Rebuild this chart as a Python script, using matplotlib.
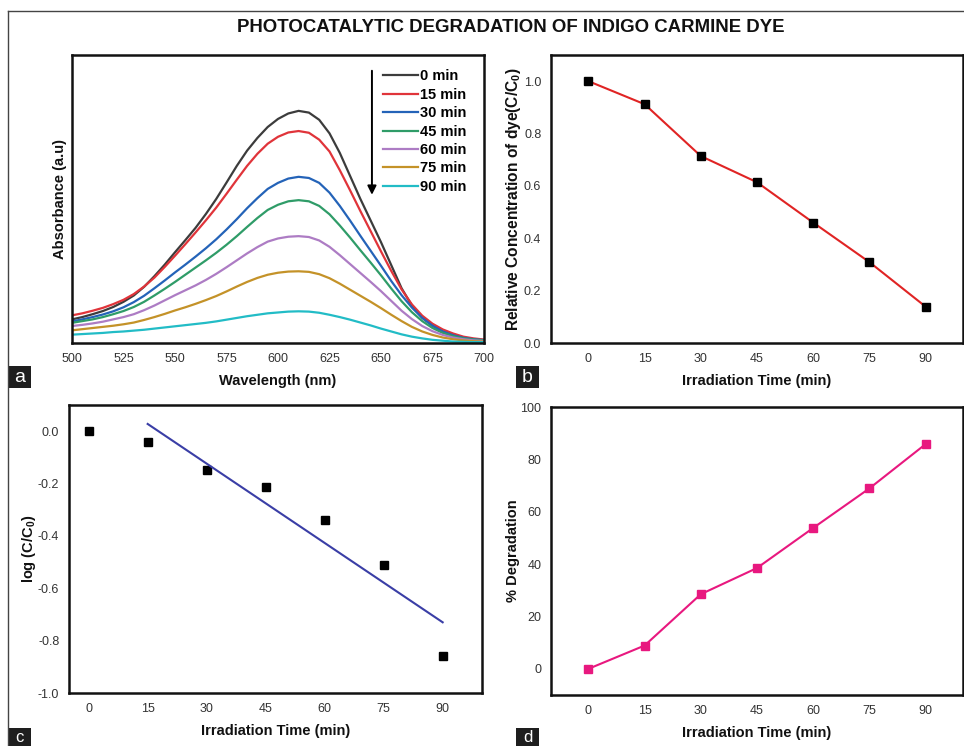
import matplotlib
matplotlib.use('Agg')
import matplotlib.pyplot as plt
import numpy as np
from matplotlib.lines import Line2D
from matplotlib.patches import Rectangle

plt.rcParams['font.family'] = ['Liberation Sans', 'DejaVu Sans']
plt.rcParams['mathtext.fontset'] = 'custom'
plt.rcParams['mathtext.bf'] = 'Liberation Sans:bold'
plt.rcParams['mathtext.rm'] = 'Liberation Sans:bold'

# ---- data ----
# (a) UV-vis spectra, absorbance in a.u. (read every 5 nm)
wavelength = list(range(500, 701, 5))
abs_0 = [0.082, 0.090, 0.100, 0.111, 0.125, 0.143, 0.165, 0.195, 0.232, 0.272, 0.315,
         0.357, 0.400, 0.448, 0.500, 0.557, 0.615, 0.668, 0.712, 0.750, 0.778, 0.797,
         0.806, 0.800, 0.775, 0.728, 0.660, 0.580, 0.500, 0.425, 0.350, 0.270, 0.190,
         0.130, 0.088, 0.060, 0.040, 0.027, 0.018, 0.013, 0.010]
abs_15 = [0.096, 0.103, 0.112, 0.122, 0.135, 0.150, 0.170, 0.196, 0.227, 0.264, 0.303,
          0.343, 0.384, 0.426, 0.470, 0.518, 0.567, 0.615, 0.657, 0.692, 0.716, 0.731,
          0.736, 0.730, 0.706, 0.665, 0.600, 0.530, 0.458, 0.388, 0.318, 0.250, 0.186,
          0.134, 0.095, 0.067, 0.047, 0.033, 0.022, 0.016, 0.012]
abs_30 = [0.075, 0.082, 0.090, 0.099, 0.110, 0.124, 0.142, 0.164, 0.190, 0.217, 0.245,
          0.272, 0.300, 0.329, 0.360, 0.394, 0.430, 0.468, 0.503, 0.535, 0.556, 0.571,
          0.577, 0.573, 0.556, 0.522, 0.476, 0.425, 0.372, 0.320, 0.268, 0.215, 0.166,
          0.123, 0.087, 0.060, 0.040, 0.027, 0.018, 0.013, 0.010]
abs_45 = [0.070, 0.076, 0.082, 0.090, 0.100, 0.111, 0.125, 0.143, 0.165, 0.188, 0.212,
          0.237, 0.262, 0.287, 0.313, 0.341, 0.371, 0.403, 0.434, 0.462, 0.480, 0.492,
          0.496, 0.492, 0.476, 0.447, 0.408, 0.366, 0.322, 0.279, 0.235, 0.189, 0.145,
          0.107, 0.076, 0.052, 0.035, 0.024, 0.016, 0.012, 0.009]
abs_60 = [0.059, 0.063, 0.068, 0.074, 0.082, 0.090, 0.100, 0.114, 0.130, 0.148, 0.166,
          0.183, 0.200, 0.219, 0.240, 0.263, 0.287, 0.311, 0.333, 0.352, 0.363, 0.369,
          0.371, 0.368, 0.356, 0.334, 0.305, 0.274, 0.243, 0.212, 0.180, 0.146, 0.112,
          0.083, 0.059, 0.041, 0.028, 0.019, 0.013, 0.009, 0.007]
abs_75 = [0.044, 0.048, 0.052, 0.056, 0.060, 0.065, 0.071, 0.080, 0.090, 0.101, 0.113,
          0.124, 0.136, 0.149, 0.163, 0.179, 0.196, 0.212, 0.226, 0.237, 0.244, 0.248,
          0.249, 0.247, 0.239, 0.225, 0.206, 0.185, 0.164, 0.143, 0.121, 0.098, 0.076,
          0.056, 0.040, 0.028, 0.019, 0.013, 0.009, 0.006, 0.005]
abs_90 = [0.029, 0.031, 0.033, 0.035, 0.038, 0.040, 0.043, 0.046, 0.050, 0.054, 0.058,
          0.062, 0.066, 0.070, 0.075, 0.081, 0.087, 0.093, 0.098, 0.103, 0.106, 0.109,
          0.110, 0.109, 0.105, 0.098, 0.090, 0.081, 0.071, 0.061, 0.050, 0.040, 0.030,
          0.022, 0.016, 0.011, 0.008, 0.005, 0.004, 0.003, 0.003]
spectra_labels = ['0 min', '15 min', '30 min', '45 min', '60 min', '75 min', '90 min']
spectra_colors = ['#3c3c3c', '#e0343a', '#2463b8', '#2f9c68', '#ad7cc4', '#c49228', '#22bcc6']

# (b), (c), (d) kinetics
time_min = [0, 15, 30, 45, 60, 75, 90]
rel_conc = [1.0, 0.912, 0.714, 0.614, 0.46, 0.309, 0.139]
log_conc = [0.0, -0.041, -0.147, -0.212, -0.338, -0.511, -0.858]
degradation = [0.0, 8.9, 28.5, 38.5, 53.8, 68.9, 85.8]

W, H = 964, 746
fig = plt.figure(figsize=(W / 100, H / 100), dpi=100)


def px_axes(left, top, right, bottom):
    return fig.add_axes([left / W, 1 - bottom / H, (right - left) / W, (bottom - top) / H])


def style(ax):
    for s in ax.spines.values():
        s.set_linewidth(1.8)
        s.set_color('#111111')
    ax.tick_params(length=0, pad=7, labelsize=9, labelcolor='#333333')


lab_kw = dict(fontsize=10.5, fontweight='bold', color='#111111')

# ---- panel a ----
ax = px_axes(72, 55, 484, 343)
style(ax)
spectra = [abs_0, abs_15, abs_30, abs_45, abs_60, abs_75, abs_90]
for vals, lab, col in zip(spectra, spectra_labels, spectra_colors):
    ax.plot(wavelength, vals, color=col, lw=1.6, label=lab)
ax.set_xlim(500, 700)
ax.set_ylim(0, 1.0)
ax.set_xticks(range(500, 701, 25))
ax.set_yticks([])
ax.set_xlabel('Wavelength (nm)', labelpad=7, **lab_kw)
ax.set_ylabel('Absorbance (a.u)', labelpad=3.5, **lab_kw)
ax.legend(loc='upper left', bbox_to_anchor=(0.737, 0.975), frameon=False,
          handlelength=2.4, handletextpad=0.15, labelspacing=0.3, borderpad=0,
          prop={'weight': 'bold', 'size': 10.5})
ax.annotate('', xy=(0.728, 0.505), xytext=(0.728, 0.955), xycoords='axes fraction',
            arrowprops=dict(arrowstyle='-|>', color='black', lw=1.4, mutation_scale=13))

# ---- panel b ----
ax = px_axes(551, 55, 963, 343)
style(ax)
ax.plot(time_min, rel_conc, color='#e02424', lw=1.5, marker='s', ms=5.5,
        mfc='black', mec='black')
ax.set_xlim(-10, 100)
ax.set_ylim(0, 1.1)
ax.set_xticks(time_min)
ax.set_yticks(np.arange(0, 1.01, 0.2))
ax.set_yticklabels(['0.0', '0.2', '0.4', '0.6', '0.8', '1.0'])
ax.set_xlabel('Irradiation Time (min)', labelpad=7, **lab_kw)
ax.set_ylabel(r'Relative Concentration of dye(C/C$_{\mathbf{0}}$)', labelpad=1,
              fontsize=11.2, fontweight='bold', color='#111111')

# ---- panel c ----
ax = px_axes(69, 405, 482, 693)
style(ax)
ax.plot(time_min, log_conc, ls='none', marker='s', ms=5.5, color='black')
fit = np.polyfit(time_min[1:], log_conc[1:], 1)
fit_x = np.array([time_min[1], time_min[-1]])
ax.plot(fit_x, np.polyval(fit, fit_x), color='#3a3ea6', lw=1.5)
ax.set_xlim(-5, 100)
ax.set_ylim(-1.0, 0.1)
ax.set_xticks(time_min)
ax.set_yticks(np.arange(-1.0, 0.01, 0.2))
ax.set_yticklabels(['-1.0', '-0.8', '-0.6', '-0.4', '-0.2', '0.0'])
ax.set_xlabel('Irradiation Time (min)', labelpad=7, **lab_kw)
ax.set_ylabel(r'log (C/C$_{\mathbf{0}}$)', labelpad=0, **lab_kw)

# ---- panel d ----
ax = px_axes(551, 407, 963, 695)
style(ax)
ax.plot(time_min, degradation, color='#e8187f', lw=1.5, marker='s', ms=5.5,
        mfc='#e8187f', mec='#e8187f')
ax.set_xlim(-10, 100)
ax.set_ylim(-10, 100)
ax.set_xticks(time_min)
ax.set_yticks(range(0, 101, 20))
ax.set_xlabel('Irradiation Time (min)', labelpad=7, **lab_kw)
ax.set_ylabel('% Degradation', labelpad=0, **lab_kw)

# ---- title, frame, panel letters ----
fig.text(511 / W, 1 - 27 / H, 'PHOTOCATALYTIC DEGRADATION OF INDIGO CARMINE DYE',
         ha='center', va='center', fontsize=13.4, fontweight='bold', color='#111111')
fig.add_artist(Line2D([8 / W, 8 / W], [0, 1 - 11 / H], transform=fig.transFigure,
                      color='#444444', lw=1.0))
fig.add_artist(Line2D([8 / W, 1], [1 - 11 / H, 1 - 11 / H], transform=fig.transFigure,
                      color='#444444', lw=1.0))

for letter, x0, y0, ty in [('a', 8, 366, 378), ('b', 516, 366, 378),
                           ('c', 8, 728, 738), ('d', 516, 728, 737)]:
    fig.add_artist(Rectangle((x0 / W, 1 - (y0 + 22) / H), 23 / W, 22 / H,
                             transform=fig.transFigure, facecolor='#1e1e1e',
                             edgecolor='none'))
    fig.text((x0 + 11.5) / W, 1 - ty / H, letter, ha='center', va='center',
             color='white', fontsize=14 if letter in 'ab' else 12)

fig.savefig('out.png', dpi=100)
